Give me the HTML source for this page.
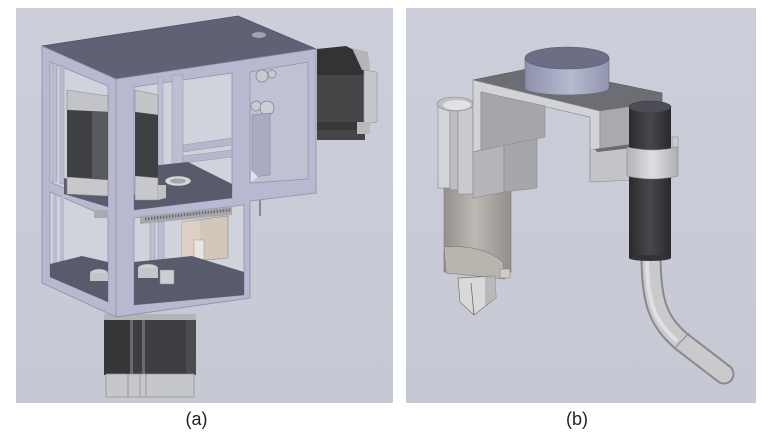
<!DOCTYPE html>
<html><head><meta charset="utf-8"><style>
html,body{margin:0;padding:0;background:#fff;}
svg{display:block}
</style></head><body>
<svg width="771" height="439" viewBox="0 0 771 439" xmlns="http://www.w3.org/2000/svg">
<defs>
<linearGradient id="bgA" x1="0" y1="0" x2="0" y2="1"><stop offset="0" stop-color="#cccedA"/><stop offset="1" stop-color="#c6c8d3"/></linearGradient>
<linearGradient id="metal" x1="0" y1="0" x2="1" y2="0"><stop offset="0" stop-color="#94908b"/><stop offset="0.45" stop-color="#bcb8b3"/><stop offset="1" stop-color="#93908b"/></linearGradient>
<linearGradient id="puck" x1="0" y1="0" x2="1" y2="0"><stop offset="0" stop-color="#8c90aa"/><stop offset="0.55" stop-color="#b6bad1"/><stop offset="1" stop-color="#9094ad"/></linearGradient>
<linearGradient id="blk" x1="0" y1="0" x2="1" y2="0"><stop offset="0" stop-color="#2b2b2d"/><stop offset="0.5" stop-color="#48484c"/><stop offset="1" stop-color="#2a2a2c"/></linearGradient>
<linearGradient id="ring" x1="0" y1="0" x2="1" y2="0"><stop offset="0" stop-color="#b3b4b8"/><stop offset="0.5" stop-color="#dddee0"/><stop offset="1" stop-color="#aeafb3"/></linearGradient>
</defs>

<!-- panel backgrounds -->
<rect x="16" y="8" width="377" height="395" fill="url(#bgA)"/>
<rect x="406" y="8" width="350" height="395" fill="url(#bgA)"/>

<!-- ============ PANEL A ============ -->
<!-- bottom motor -->
<rect x="104" y="314" width="92" height="8" fill="#b3b4b8"/>
<rect x="104" y="320" width="92" height="55" fill="#3d3e41"/>
<rect x="104" y="320" width="26" height="55" fill="#353638"/>
<rect x="130" y="320" width="3" height="55" fill="#6a6b6f"/>
<rect x="142" y="320" width="3" height="55" fill="#6a6b6f"/>
<rect x="186" y="320" width="10" height="55" fill="#4a4b4f"/>
<rect x="106" y="374" width="88" height="23" fill="#c6c7ca" stroke="#8e8f93" stroke-width="0.7"/>
<line x1="128" y1="374" x2="128" y2="397" stroke="#999" stroke-width="1"/>
<line x1="140" y1="374" x2="140" y2="397" stroke="#999" stroke-width="1"/>
<line x1="146" y1="374" x2="146" y2="397" stroke="#999" stroke-width="1"/>

<!-- right motor -->
<polygon points="317,49 346,46 366,56 366,76 317,77" fill="#333336"/>
<rect x="317" y="75" width="48" height="65" fill="#454548"/>
<rect x="317" y="122" width="48" height="8" fill="#38383b"/>
<polygon points="352,48 368,52 370,70 362,70" fill="#b4b5b9"/>
<polygon points="364,70 377,72 377,122 364,124" fill="#c6c7ca" stroke="#9a9a9e" stroke-width="0.7"/>
<polygon points="357,122 370,122 370,134 357,134" fill="#b9babd"/>

<!-- pin -->
<rect x="259" y="199" width="2" height="17" fill="#8a8a8e"/>

<!-- top face -->
<polygon points="42,46 238,16 316,49 116,79" fill="#5f6275" stroke="#4f5262" stroke-width="0.8"/>
<ellipse cx="259" cy="35" rx="7" ry="3" fill="#a0a3b5"/>

<!-- left face -->
<polygon points="42,46 116,79 116,317 42,283" fill="#b7b9d0" stroke="#8d90a6" stroke-width="0.8"/>
<!-- L1 window -->
<polygon points="50,62 108,86 108,207 50,182" fill="#d0d2dc" stroke="#8d90a6" stroke-width="0.7"/>
<rect x="52" y="64" width="5" height="118" fill="#babcd1" stroke="#9497ab" stroke-width="0.5"/>
<rect x="60" y="66" width="4" height="118" fill="#babcd1" stroke="#9497ab" stroke-width="0.5"/>
<polygon points="64,178 108,190 108,207 64,194" fill="#5a5d6e"/>
<polygon points="67,90 108,96 108,112 67,110" fill="#c3c4c8" stroke="#88898d" stroke-width="0.6"/>
<polygon points="67,110 108,112 108,180 67,177" fill="#3f4044"/>
<polygon points="92,111 108,112 108,180 92,178" fill="#58595e"/>
<polygon points="67,177 108,180 108,196 67,194" fill="#c8c8cb" stroke="#88898d" stroke-width="0.6"/>
<!-- L2 window -->
<polygon points="50,192 108,217 108,302 50,277" fill="#d0d2dc" stroke="#8d90a6" stroke-width="0.7"/>
<rect x="53" y="195" width="4" height="80" fill="#babcd1"/>
<rect x="60" y="197" width="4" height="80" fill="#babcd1"/>
<polygon points="50,264 82,256 108,262 108,302 50,277" fill="#585b6c"/>
<rect x="94" y="210" width="14" height="8" fill="#a9aab0"/>
<ellipse cx="99" cy="273" rx="9" ry="4" fill="#cfd0d4" stroke="#777" stroke-width="0.6"/>
<rect x="90" y="273" width="18" height="8" fill="#c4c5c9"/>

<!-- front face -->
<polygon points="116,79 316,49 316,193 250,201 250,298 116,317" fill="#b7b9d0" stroke="#8d90a6" stroke-width="0.8"/>
<!-- F1 -->
<polygon points="134,87 232,73 232,198 134,210" fill="#d0d2dc" stroke="#8d90a6" stroke-width="0.7"/>
<rect x="158" y="77" width="5" height="92" fill="#bcbed2" stroke="#9497ab" stroke-width="0.5"/>
<rect x="172" y="75" width="11" height="92" fill="#bcbed2" stroke="#9497ab" stroke-width="0.5"/>
<polygon points="183,145 232,138 232,145 183,152" fill="#b5b7cc" stroke="#9497ab" stroke-width="0.5"/>
<polygon points="183,156 232,150 232,157 183,163" fill="#b5b7cc" stroke="#9497ab" stroke-width="0.5"/>
<polygon points="150,166 188,162 232,184 232,198 134,210 134,195" fill="#585b6c"/>
<ellipse cx="178" cy="181" rx="13" ry="5" fill="#d8d9dd" stroke="#666" stroke-width="0.6"/>
<ellipse cx="178" cy="181" rx="8" ry="2.6" fill="#a5a6ab"/>
<polygon points="135,90 158,95 158,115 135,112" fill="#c4c5c9" stroke="#88898d" stroke-width="0.6"/>
<polygon points="135,112 158,115 158,178 135,176" fill="#3f4044"/>
<polygon points="135,176 158,178 158,200 135,200" fill="#c7c8cb" stroke="#88898d" stroke-width="0.6"/>
<polygon points="158,185 166,185 166,198 158,200" fill="#c0c1c5"/>
<!-- F2 -->
<polygon points="250,72 308,62 308,179 250,183" fill="#c0c2d4" stroke="#8d90a6" stroke-width="0.7"/>
<circle cx="262" cy="76" r="6" fill="#c9cad2" stroke="#7d7f8a" stroke-width="0.7"/>
<circle cx="272" cy="74" r="4" fill="#c9cad2" stroke="#7d7f8a" stroke-width="0.7"/>
<circle cx="256" cy="106" r="5" fill="#c9cad2" stroke="#7d7f8a" stroke-width="0.7"/>
<circle cx="267" cy="108" r="7" fill="#cdced6" stroke="#7d7f8a" stroke-width="0.7"/>
<polygon points="252,115 270,113 270,175 252,177" fill="#a9abc0" stroke="#858799" stroke-width="0.6"/>
<polygon points="251,170 258,177 251,182" fill="#e2e3ea"/>
<!-- F3 -->
<polygon points="134,218 244,205 244,295 134,305" fill="#d0d2dc" stroke="#8d90a6" stroke-width="0.7"/>
<polygon points="140,216 232,207 232,215 140,224" fill="#a7a8ae"/>
<line x1="145" y1="219" x2="230" y2="210" stroke="#6c6d73" stroke-width="3" stroke-dasharray="1.5,1.5"/>
<rect x="150" y="222" width="5" height="45" fill="#bcbed2" stroke="#9497ab" stroke-width="0.5"/>
<rect x="158" y="222" width="6" height="45" fill="#bcbed2" stroke="#9497ab" stroke-width="0.5"/>
<polygon points="182,222 228,216 228,258 182,262" fill="#d3c6ba" stroke="#8e857e" stroke-width="0.6"/>
<polygon points="182,222 200,220 200,260 182,262" fill="#dccfc4"/>
<rect x="194" y="240" width="10" height="23" fill="#e7e4e1" stroke="#999" stroke-width="0.5"/>
<polygon points="134,262 192,256 244,272 244,295 134,305" fill="#585b6c"/>
<ellipse cx="148" cy="268" rx="10" ry="4" fill="#cfd0d4" stroke="#777" stroke-width="0.6"/>
<rect x="138" y="268" width="20" height="10" fill="#c4c5c9"/>
<rect x="160" y="270" width="14" height="14" fill="#cdced2" stroke="#888" stroke-width="0.5"/>

<!-- ============ PANEL B ============ -->
<!-- cable -->
<path d="M651,254 C651,300 657,320 681,341 L724,374" fill="none" stroke="#8a8a8e" stroke-width="21" stroke-linecap="round" stroke-linejoin="round"/>
<path d="M651,254 C651,300 657,320 681,341 L724,374" fill="none" stroke="#cacacd" stroke-width="17" stroke-linecap="round" stroke-linejoin="round"/>
<path d="M647,256 C647,300 653,320 677,341" fill="none" stroke="#e0e0e2" stroke-width="4"/>
<line x1="674" y1="349" x2="689" y2="333" stroke="#8a8a8e" stroke-width="1"/>

<!-- metallic cylinder -->
<rect x="444" y="184" width="67" height="88" fill="url(#metal)" stroke="#7d7a76" stroke-width="0.6"/>
<path d="M444,247 Q482,244 503,262 L505,279 L446,273 Z" fill="#b8b4ae" stroke="#7d7a76" stroke-width="0.6"/>
<rect x="500" y="269" width="10" height="9" fill="#cfcbc6" stroke="#7d7a76" stroke-width="0.5"/>
<polygon points="458,278 495,276 496,298 474,315 460,302" fill="#d9d9d9" stroke="#777" stroke-width="0.7"/>
<polygon points="485,277 495,276 496,298 485,306" fill="#b9b9bb"/>
<line x1="471" y1="283" x2="474" y2="315" stroke="#666" stroke-width="0.8"/>

<!-- left holder -->
<rect x="438" y="104" width="12" height="84" fill="#d3d4d7" stroke="#8a8a8e" stroke-width="0.6"/>
<rect x="450" y="106" width="8" height="84" fill="#bdbec2" stroke="#8a8a8e" stroke-width="0.6"/>
<rect x="458" y="108" width="15" height="86" fill="#c9cacd" stroke="#8a8a8e" stroke-width="0.6"/>
<ellipse cx="455" cy="104" rx="18" ry="7" fill="#bfc0c3" stroke="#8a8a8e" stroke-width="0.6"/>
<ellipse cx="457" cy="105" rx="14" ry="5" fill="#e2e2e4"/>
<polygon points="473,152 504,145 504,192 473,198" fill="#b5b6b9" stroke="#8a8a8e" stroke-width="0.6"/>
<polygon points="504,145 537,137 537,188 504,192" fill="#a6a7ab" stroke="#8a8a8e" stroke-width="0.6"/>

<!-- plate top -->
<polygon points="473,80 527,69 609,82 662,93 662,102 600,111" fill="#6d6e74" stroke="#555" stroke-width="0.6"/>
<!-- puck -->
<path d="M525,58 L525,88 A42,7 0 0 0 609,88 L609,58 Z" fill="url(#puck)" stroke="#6a6d80" stroke-width="0.6"/>
<ellipse cx="567" cy="58" rx="42" ry="11" fill="#6b6e84" stroke="#5a5c6c" stroke-width="0.6"/>

<!-- bracket left arm band -->
<polygon points="473,80 600,111 600,180 590,180 590,117 481,92 481,150 473,152" fill="#d2d3d6" stroke="#8a8a8e" stroke-width="0.7"/>
<polygon points="481,92 545,106 545,137 481,150" fill="#a5a6aa" stroke="#8a8a8e" stroke-width="0.6"/>
<!-- right arm -->
<polygon points="600,111 662,102 662,142 600,152" fill="#a9aaae" stroke="#8a8a8e" stroke-width="0.6"/>
<polygon points="590,150 632,145 632,180 590,182" fill="#c3c4c7" stroke="#8a8a8e" stroke-width="0.6"/>
<polygon points="595,149 632,144 632,148 597,152" fill="#6a6a70"/>

<!-- black cylinder -->
<rect x="629" y="107" width="42" height="151" fill="url(#blk)"/>
<ellipse cx="650" cy="258" rx="21" ry="3" fill="#333336"/>
<ellipse cx="650" cy="107" rx="21" ry="6" fill="#4c4d55" stroke="#333" stroke-width="0.6"/>
<!-- ring -->
<rect x="672" y="137" width="6" height="10" fill="#c9cacd" stroke="#888" stroke-width="0.5"/>
<path d="M627,147 Q652,153 678,147 L678,176 Q652,182 627,176 Z" fill="url(#ring)" stroke="#888" stroke-width="0.6"/>

<!-- labels -->
<text x="196.5" y="425" font-family="Liberation Sans, sans-serif" font-size="18" fill="#222" text-anchor="middle">(a)</text>
<text x="577" y="425" font-family="Liberation Sans, sans-serif" font-size="18" fill="#222" text-anchor="middle">(b)</text>
</svg>
</body></html>
